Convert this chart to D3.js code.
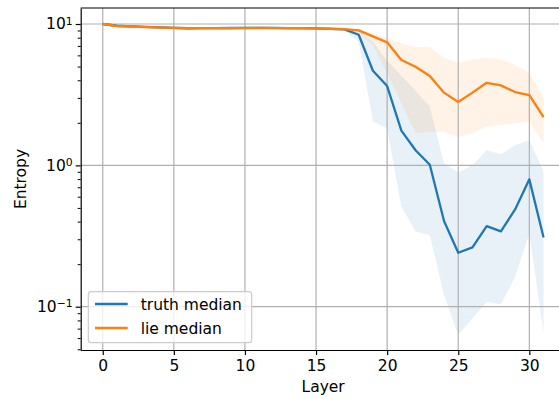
<!DOCTYPE html>
<html>
<head>
<meta charset="utf-8">
<script src="https://cdn.jsdelivr.net/npm/d3@7"></script>
<style>
  html, body { margin: 0; padding: 0; background: #fff; }
  svg text { font-family: "DejaVu Sans", sans-serif; }
</style>
</head>
<body>
<svg id="chart" width="559" height="399"></svg>
<script>
// data
const layers = [0,1,2,3,4,5,6,7,8,9,10,11,12,13,14,15,16,17,18,19,20,21,22,23,24,25,26,27,28,29,30,31];

const truthMedian = [10.0,9.72,9.62,9.55,9.47,9.40,9.33,9.36,9.36,9.37,9.38,9.40,9.38,9.36,9.34,9.30,
  9.25,9.17,8.40,4.67,3.64,1.76,1.28,1.01,0.404,0.241,0.263,0.372,0.341,0.488,0.796,0.309];
const truthLow = [9.85,9.50,9.40,9.35,9.28,9.20,9.15,9.18,9.20,9.20,9.22,9.22,9.20,9.18,9.16,9.12,
  9.05,8.95,7.5,2.04,1.83,0.51,0.34,0.32,0.121,0.063,0.083,0.108,0.104,0.163,0.33,0.065];
const truthHigh = [10.15,9.90,9.80,9.72,9.65,9.58,9.50,9.52,9.53,9.54,9.56,9.58,9.55,9.52,9.50,9.47,
  9.42,9.30,9.05,7.5,5.5,4.3,3.37,2.6,1.03,0.89,1.0,1.28,1.2,1.39,1.51,0.91];

const lieMedian = [10.0,9.68,9.60,9.52,9.45,9.38,9.33,9.35,9.35,9.36,9.36,9.37,9.36,9.35,9.33,9.30,
  9.26,9.20,9.02,8.18,7.42,5.56,4.99,4.29,3.27,2.81,3.27,3.84,3.68,3.30,3.14,2.19];
const lieLow = [9.85,9.50,9.42,9.35,9.28,9.22,9.17,9.19,9.19,9.20,9.20,9.21,9.20,9.19,9.17,9.14,
  9.10,9.05,8.7,7.1,4.48,2.75,1.69,1.73,1.73,1.58,1.69,1.88,1.93,1.98,2.04,1.43];
const lieHigh = [10.15,9.85,9.78,9.70,9.62,9.55,9.50,9.52,9.52,9.53,9.53,9.55,9.53,9.52,9.50,9.47,
  9.42,9.32,9.15,8.59,7.92,7.3,6.84,6.91,5.77,5.32,5.62,5.77,5.62,5.13,4.48,3.06];

const xTicks = [0,5,10,15,20,25,30];
const yTicks = [0.1,1,10];
const yTickExp = ["\u22121","0","1"];
const yMinor = [0.05,0.06,0.07,0.08,0.09,0.2,0.3,0.4,0.5,0.6,0.7,0.8,0.9,2,3,4,5,6,7,8,9];

const seriesNames = ["truth median","lie median"];
const colors = ["#1f77b4","#ff7f0e"];

const plotLeft = 80.7, plotRight = 565.6, plotTop = 8, plotBottom = 350;
const fontSize = 15.5;

const svg = d3.select("#chart");
svg.append("rect").attr("width",559).attr("height",399).attr("fill","#fff");

const x = d3.scaleLinear().domain([-1.55, 32.55]).range([plotLeft, plotRight]);
const y = d3.scaleLog().domain([0.0494, 12.98]).range([plotBottom, plotTop]);

svg.append("clipPath").attr("id","clip")
   .append("rect").attr("x",plotLeft).attr("y",plotTop)
   .attr("width",plotRight-plotLeft).attr("height",plotBottom-plotTop);

const plot = svg.append("g").attr("clip-path","url(#clip)");

// bands
const series = [
  {med: truthMedian, lo: truthLow, hi: truthHigh, color: colors[0]},
  {med: lieMedian, lo: lieLow, hi: lieHigh, color: colors[1]}
];

const area = d3.area()
  .x((d,i) => x(layers[i]))
  .y0(d => y(d[0]))
  .y1(d => y(d[1]));

series.forEach(s => {
  plot.append("path")
      .datum(s.lo.map((v,i) => [v, s.hi[i]]))
      .attr("d", area)
      .attr("fill", s.color)
      .attr("fill-opacity", 0.1);
});

// grid
plot.append("g").selectAll("line").data(xTicks).join("line")
    .attr("x1", d => x(d)).attr("x2", d => x(d))
    .attr("y1", plotTop).attr("y2", plotBottom)
    .attr("stroke","#b0b0b0").attr("stroke-width",1.2);
plot.append("g").selectAll("line").data(yTicks).join("line")
    .attr("x1", plotLeft).attr("x2", plotRight)
    .attr("y1", d => y(d)).attr("y2", d => y(d))
    .attr("stroke","#b0b0b0").attr("stroke-width",1.2);

// median lines
const line = d3.line().x((d,i) => x(layers[i])).y(d => y(d));
series.forEach(s => {
  plot.append("path")
      .datum(s.med)
      .attr("d", line)
      .attr("fill","none")
      .attr("stroke", s.color)
      .attr("stroke-width", 2.3)
      .attr("stroke-linejoin","round");
});

// axes
const xAxis = svg.append("g")
  .attr("transform", `translate(0,${plotBottom})`)
  .call(d3.axisBottom(x).tickValues(xTicks).tickSize(5).tickPadding(5).tickSizeOuter(0));
xAxis.select(".domain").attr("stroke","#000").attr("stroke-width",1.2);
xAxis.selectAll(".tick line").attr("stroke","#000").attr("stroke-width",1.2);
xAxis.selectAll(".tick text").attr("font-size",fontSize).attr("fill","#000")
     .attr("font-family","DejaVu Sans");

const yAxis = svg.append("g")
  .attr("transform", `translate(${plotLeft},0)`)
  .call(d3.axisLeft(y).tickValues(yTicks).tickSize(5).tickFormat("").tickSizeOuter(0));
yAxis.select(".domain").attr("stroke","#000").attr("stroke-width",1.2);
yAxis.selectAll(".tick line").attr("stroke","#000").attr("stroke-width",1.2);
yAxis.selectAll(".tick text").remove();
yAxis.selectAll(".tick").each(function(d,i) {
  const t = d3.select(this).append("text")
      .attr("x",-8).attr("dy","0.32em")
      .attr("text-anchor","end")
      .attr("font-size",fontSize).attr("fill","#000")
      .attr("font-family","DejaVu Sans");
  t.append("tspan").text("10");
  t.append("tspan").attr("dy","-0.45em").attr("font-size",fontSize*0.7).text(yTickExp[i]);
});

const yMinorAxis = svg.append("g")
  .attr("transform", `translate(${plotLeft},0)`)
  .call(d3.axisLeft(y).tickValues(yMinor).tickSize(3).tickFormat("").tickSizeOuter(0));
yMinorAxis.select(".domain").remove();
yMinorAxis.selectAll(".tick line").attr("stroke","#000").attr("stroke-width",1);

// top spine
svg.append("line").attr("x1",plotLeft).attr("x2",plotRight).attr("y1",plotTop).attr("y2",plotTop)
   .attr("stroke","#000").attr("stroke-width",1.2);

// axis labels
svg.append("text").attr("x",(plotLeft+plotRight)/2).attr("y",392)
   .attr("text-anchor","middle").attr("font-size",fontSize).text("Layer");
svg.append("text").attr("transform",`translate(26,${(plotTop+plotBottom)/2}) rotate(-90)`)
   .attr("text-anchor","middle").attr("font-size",fontSize).text("Entropy");

// legend
const legend = svg.append("g");
legend.append("rect").attr("x",88.3).attr("y",291.7).attr("width",163.4).attr("height",51)
      .attr("rx",3).attr("fill","#fff").attr("fill-opacity",0.8)
      .attr("stroke","#cccccc").attr("stroke-width",1.2);
seriesNames.forEach((name,i) => {
  const ly = 304 + i*24;
  legend.append("line").attr("x1",95).attr("x2",127.7).attr("y1",ly).attr("y2",ly)
        .attr("stroke",colors[i]).attr("stroke-width",2.3);
  legend.append("text").attr("x",140.7).attr("y",ly).attr("dy","0.36em")
        .attr("font-size",fontSize).attr("fill","#000").text(name);
});
</script>
</body>
</html>
